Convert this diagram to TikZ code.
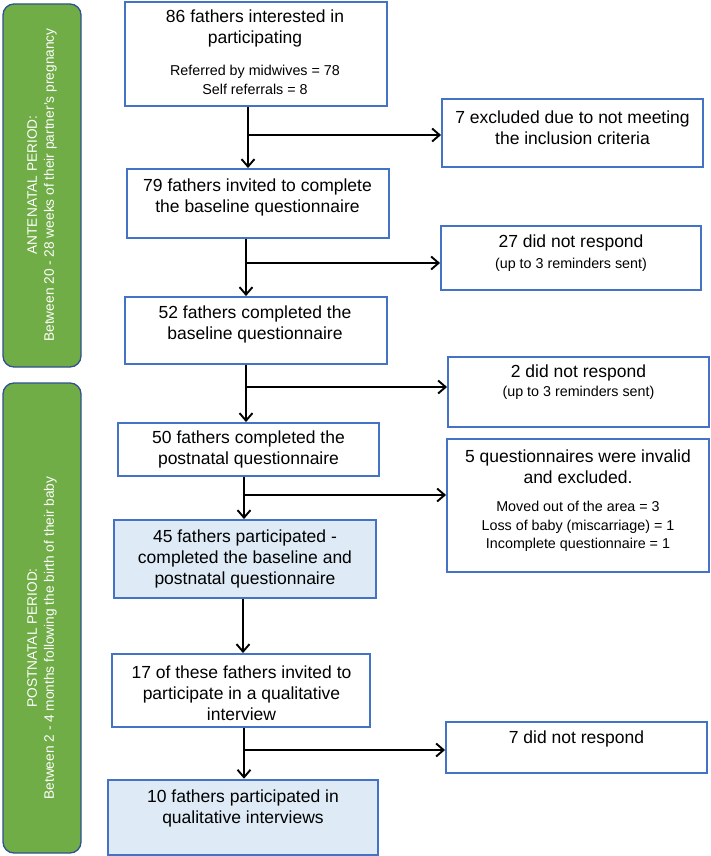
\documentclass[tikz,border=0pt]{standalone}
\usepackage{fontspec}
\setmainfont{Liberation Sans}
\usetikzlibrary{arrows.meta,fit}
\definecolor{boxblue}{HTML}{4472C4}
\definecolor{fillblue}{HTML}{DEEBF7}
\definecolor{pgreen}{HTML}{70AD47}
\definecolor{pborder}{HTML}{2F528F}
\begin{document}
\begin{tikzpicture}[x=1pt,y=-1pt,
  box/.style={draw=boxblue, line width=1.9pt, rectangle, inner sep=0pt},
  hbox/.style={box, fill=fillblue},
  gbar/.style={draw=pborder, line width=1.3pt, fill=pgreen, rounded corners=11pt, inner sep=0pt},
  big/.style={align=center, inner sep=0pt, font=\fontsize{17.5}{21}\selectfont},
  small/.style={align=center, inner sep=0pt, font=\fontsize{14.3}{18.5}\selectfont},
  gtext/.style={align=center, inner sep=0pt, text=white, rotate=90, font=\fontsize{13.7}{17}\selectfont},
  arr/.style={line width=1.9pt, -{Straight Barb[length=7.5pt,width=13pt]}}]
\useasboundingbox (0,0) rectangle (710,856);

% green period bars
\node[gbar, fit={(3,4) (81,367)}] (g1) {};
\node[gtext] (g1t) at (42,185) {ANTENATAL PERIOD:\\Between 20 - 28 weeks of their partner's pregnancy};
\node[gbar, fit={(3,383) (81,853)}] (g2) {};
\node[gtext] (g2t) at (42,638) {POSTNATAL PERIOD:\\Between 2 - 4 months following the birth of their baby};

% main column
\node[box, fit={(125,2) (387,106)}] (b1) {};
\node[big] (b1t) at (255,28.5) {86 fathers interested in\\participating};
\node[small] (b1s) at (255,80) {Referred by midwives = 78\\Self referrals = 8};

\node[box, fit={(127,169) (389,238)}] (b2) {};
\node[big] (b2t) at (257.5,197.5) {79 fathers invited to complete\\the baseline questionnaire};

\node[box, fit={(125,297) (387,364)}] (b3) {};
\node[big] (b3t) at (255,324.5) {52 fathers completed the\\baseline questionnaire};

\node[box, fit={(118,423) (379,476)}] (b4) {};
\node[big] (b4t) at (248.5,449.5) {50 fathers completed the\\postnatal questionnaire};

\node[hbox, fit={(114,520) (376,598)}] (b5) {};
\node[big] (b5t) at (245,559) {45 fathers participated -\\completed the baseline and\\postnatal questionnaire};

\node[box, fit={(112,654) (370,727)}] (b6) {};
\node[big] (b6t) at (241.5,693) {17 of these fathers invited to\\participate in a qualitative\\interview};

\node[hbox, line width=2.6pt, fit={(108,780) (378,855)}] (b7) {};
\node[big] (b7t) at (243,808) {10 fathers participated in\\qualitative interviews};

% exclusion column
\node[box, fit={(442,99) (703,167)}] (e1) {};
\node[big] (e1t) at (572.5,127.5) {7 excluded due to not meeting\\the inclusion criteria};

\node[box, fit={(441,226) (701,290)}] (e2) {};
\node[big] (e2t) at (571,243) {27 did not respond};
\node[small] (e2s) at (571,265) {(up to 3 reminders sent)};

\node[box, fit={(448,357) (709,427)}] (e3) {};
\node[big] (e3t) at (578.5,373) {2 did not respond};
\node[small] (e3s) at (578.5,393) {(up to 3 reminders sent)};

\node[box, fit={(447,439) (709,572)}] (e4) {};
\node[big] (e4t) at (578,467) {5 questionnaires were invalid\\and excluded.};
\node[small] (e4s) at (578,526.5) {Moved out of the area = 3\\Loss of baby (miscarriage) = 1\\Incomplete questionnaire = 1};

\node[box, fit={(446,722) (707,773)}] (e5) {};
\node[big] (e5t) at (576.5,739) {7 did not respond};

% junction points
\coordinate (j1) at (248,135);
\coordinate (j2) at (246,263);
\coordinate (j3) at (246,387);
\coordinate (j4) at (244,495);
\coordinate (j6) at (244,750);

% vertical arrows
\draw[arr] (b1.south -| j1) -- (b2.north -| j1);
\draw[arr] (b2.south -| j2) -- (b3.north -| j2);
\draw[arr] (b3.south -| j3) -- (b4.north -| j3);
\draw[arr] (b4.south -| j4) -- (b5.north -| j4);
\draw[arr] ([xshift=-2pt]b5.south) -- ([xshift=-2pt]b5.south |- b6.north);
\draw[arr] (b6.south -| j6) -- (b7.north -| j6);

% branch arrows
\draw[arr] (j1) -- (j1 -| e1.west);
\draw[arr] (j2) -- (j2 -| e2.west);
\draw[arr] (j3) -- (j3 -| e3.west);
\draw[arr] (j4) -- (j4 -| e4.west);
\draw[arr] (j6) -- (j6 -| e5.west);
\end{tikzpicture}
\end{document}
